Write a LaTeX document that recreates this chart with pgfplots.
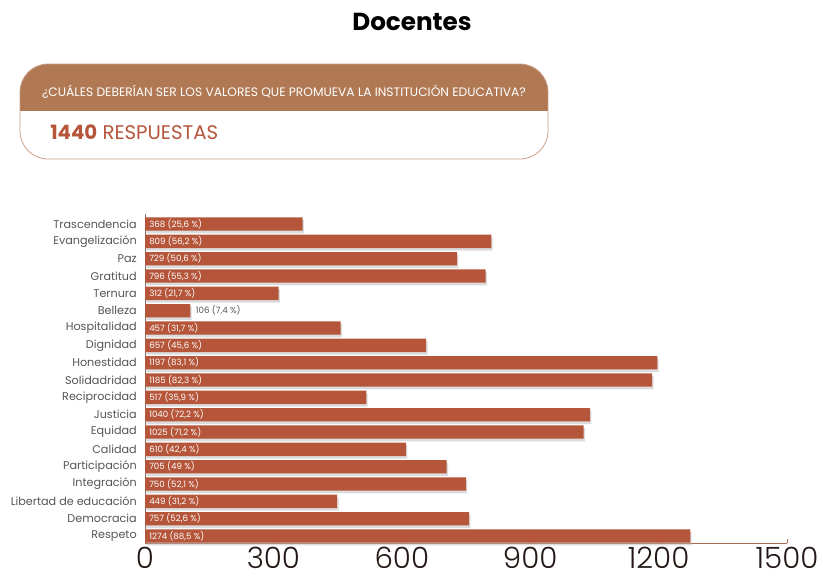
\documentclass[border=0pt]{standalone}
\usepackage{pgfplots}
\pgfplotsset{compat=1.18}
\usepackage{pgfplotstable}
\usepackage{fontspec}
\setmainfont{Poppins}
\newfontfamily\lightfont{Poppins Light}
\usetikzlibrary{shadows}
\definecolor{barc}{HTML}{B5553A}
\definecolor{hdr}{HTML}{B07954}
\definecolor{hdrline}{HTML}{C9A087}
\definecolor{ticktext}{HTML}{231815}
\definecolor{labgrey}{HTML}{555555}
\definecolor{axc}{HTML}{B06A50}
\definecolor{yaxc}{HTML}{8A6E62}

\pgfplotstableread{
y v
0 1274
1 757
2 449
3 750
4 705
5 610
6 1025
7 1040
8 517
9 1185
10 1197
11 657
12 457
13 106
14 312
15 796
16 729
17 809
18 368
}\data

\pgfplotstableread{
y lab
0 {1274 (88,5 \%)}
1 {757 (52,6 \%)}
2 {449 (31,2 \%)}
3 {750 (52,1 \%)}
4 {705 (49 \%)}
5 {610 (42,4 \%)}
6 {1025 (71,2 \%)}
7 {1040 (72,2 \%)}
8 {517 (35,9 \%)}
9 {1185 (82,3 \%)}
10 {1197 (83,1 \%)}
11 {657 (45,6 \%)}
12 {457 (31,7 \%)}
14 {312 (21,7 \%)}
15 {796 (55,3 \%)}
16 {729 (50,6 \%)}
17 {809 (56,2 \%)}
18 {368 (25,6 \%)}
}\datain

\pgfplotstableread{
y v lab
13 106 {106 (7,4 \%)}
}\dataout

\begin{document}
\begin{tikzpicture}
\path[use as bounding box] (0,0) rectangle (617.25pt,433.5pt);
% title
\node[font=\bfseries\fontsize{18.5}{22}\selectfont, text=black] at (309pt,417pt) {Docentes};
% header box
\begin{scope}
\clip[rounded corners=21pt] (15pt,314.25pt) rectangle (411pt,385.5pt);
\fill[hdr] (15pt,350.25pt) rectangle (411pt,385.5pt);
\end{scope}
\draw[hdrline, line width=0.6pt, rounded corners=21pt] (15pt,314.25pt) rectangle (411pt,385.5pt);
\node[font=\fontsize{9.2}{11}\selectfont, text=white] at (213pt,364.5pt) {¿CUÁLES DEBERÍAN SER LOS VALORES QUE PROMUEVA LA INSTITUCIÓN EDUCATIVA?};
\node[anchor=west, inner sep=0pt, font=\fontsize{14.8}{17}\selectfont, text=barc] at (37.5pt,334.5pt) {\textbf{1440} RESPUESTAS};

\begin{axis}[
  at={(108.75pt,26.25pt)}, anchor=south west,
  scale only axis, width=481.5pt, height=246.75pt,
  xmin=0, xmax=1500, ymin=-0.4, ymax=18.58,
  axis x line*=bottom, axis y line*=left,
  x axis line style={draw=axc, line width=0.7pt},
  y axis line style={draw=yaxc, line width=0.7pt},
  xtick={0,300,600,900,1200,1500},
  tick align=inside,
  major tick length=3pt,
  xtick style={draw=axc, line width=0.7pt},
  /pgf/number format/1000 sep={},
  /pgf/number format/assume math mode=true,
  xticklabel style={font=\lightfont\fontsize{22}{26}\selectfont, text=ticktext, anchor=center, inner sep=0pt, yshift=-11pt},
  ytick={0,...,18},
  yticklabels={Respeto, Democracia, Libertad de educación, Integración, Participación, Calidad, Equidad, Justicia, Reciprocidad, Solidadridad, Honestidad, Dignidad, Hospitalidad, Belleza, Ternura, Gratitud, Paz, Evangelización, Trascendencia},
  ytick style={draw=none},
  yticklabel style={font=\fontsize{8.4}{10}\selectfont, text=labgrey, inner sep=0pt, xshift=-6pt},
  clip=false,
]
\addplot[xbar, bar width=10pt, fill=barc, draw=none,
  drop shadow={shadow xshift=1pt, shadow yshift=-2pt, fill=black!30, opacity=0.45}]
  table[x=v, y=y] {\data};
\addplot[draw=none, mark=none, nodes near coords, point meta=explicit symbolic,
  nodes near coords style={anchor=west, text=white, font=\fontsize{6.5}{7.5}\selectfont, inner sep=0pt, xshift=3pt}]
  table[x expr=0, y=y, meta=lab] {\datain};
\addplot[draw=none, mark=none, nodes near coords, point meta=explicit symbolic,
  nodes near coords style={anchor=west, text=labgrey, font=\fontsize{6.5}{7.5}\selectfont, inner sep=0pt, xshift=4pt}]
  table[x=v, y=y, meta=lab] {\dataout};
\end{axis}
\end{tikzpicture}
\end{document}
